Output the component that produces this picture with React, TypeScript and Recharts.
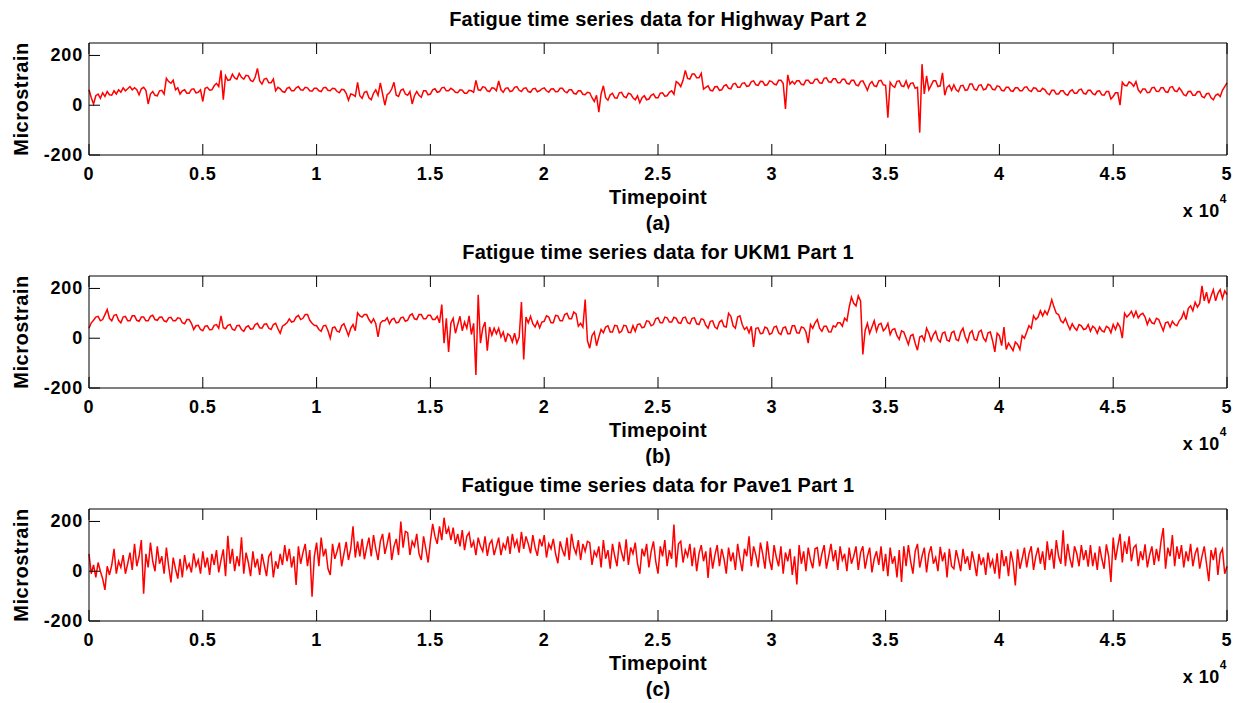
import React from 'react';
import { LineChart, Line, XAxis, YAxis, Label } from 'recharts';

// sample spacing of the values below (timepoints)
const STEP = 100;

// Highway Part 2, every 100 timepoints (20 values per row)
const highway = [
  62, 30, 5, 38, 45, 28, 50, 35, 55, 42, 40, 58, 45, 62, 52, 70, 58, 66, 75, 62,
  70, 62, 42, 66, 72, 60, 5, 45, 55, 40, 38, 58, 60, 45, 108, 95, 88, 100, 62, 70,
  45, 58, 62, 48, 48, 64, 66, 50, 52, 62, 15, 68, 72, 60, 62, 78, 88, 75, 140, 22,
  118, 100, 102, 125, 110, 105, 128, 112, 105, 120, 118, 100, 95, 112, 148, 98, 85, 105, 108, 90,
  90, 105, 58, 72, 66, 55, 52, 68, 72, 58, 58, 70, 75, 62, 60, 72, 70, 58, 56, 68,
  68, 58, 55, 70, 72, 60, 58, 68, 66, 55, 50, 64, 62, 48, 20, 45, 42, 35, 92, 38,
  28, 52, 55, 30, 22, 48, 62, 40, 90, 45, 0, 42, 50, 65, 92, 40, 35, 60, 65, 45,
  40, 55, 5, 38, 55, 40, 32, 58, 58, 42, 45, 62, 66, 52, 55, 70, 72, 58, 58, 68,
  62, 52, 50, 62, 60, 48, 48, 60, 58, 52, 100, 62, 60, 74, 72, 58, 55, 70, 68, 58,
  98, 62, 52, 68, 70, 55, 58, 72, 75, 60, 55, 68, 70, 55, 52, 66, 68, 54, 58, 66,
  70, 58, 52, 65, 66, 54, 55, 68, 68, 55, 50, 62, 62, 48, 45, 58, 58, 44, 42, 52,
  50, 30, 15, 40, -28, 45, 78, 30, 20, 42, 48, 30, 28, 50, 52, 35, 30, 48, 45, 30,
  22, 38, 10, 30, 38, 22, 25, 40, 45, 30, 30, 48, 50, 36, 38, 52, 58, 44, 95, 88,
  75, 100, 140, 108, 105, 125, 125, 110, 110, 128, 65, 72, 78, 60, 58, 74, 75, 60, 62, 78,
  82, 68, 66, 85, 88, 72, 72, 88, 90, 76, 78, 95, 98, 82, 80, 96, 95, 80, 82, 98,
  95, 85, 82, 100, 100, 88, -15, 122, 85, 96, 85, 98, 98, 84, 82, 100, 100, 88, 88, 104,
  105, 90, 88, 108, 110, 94, 92, 106, 106, 90, 90, 104, 104, 88, 85, 100, 100, 82, 78, 96,
  98, 80, 60, 85, 95, 78, 75, 98, 100, 82, 80, -50, 92, 78, 72, 96, 98, 78, 75, 98,
  70, 88, 90, 68, 72, -110, 165, 45, 118, 62, 80, 98, 98, 75, 78, 130, 40, 72, 80, 60,
  82, 62, 55, 78, 80, 60, 62, 85, 85, 64, 60, 80, 82, 62, 65, 84, 80, 64, 62, 78,
  75, 60, 58, 72, 72, 58, 56, 70, 70, 58, 58, 72, 74, 60, 55, 70, 68, 56, 56, 68,
  62, 48, 42, 60, 60, 45, 45, 58, 58, 44, 40, 56, 62, 48, 48, 62, 65, 48, 45, 60,
  60, 46, 42, 56, 58, 42, 40, 55, 55, 25, 35, 50, 50, 0, 92, 80, 78, 94, 88, 76,
  95, 62, 50, 65, 65, 50, 52, 70, 72, 56, 55, 70, 70, 54, 52, 72, 75, 58, 55, 70,
  58, 42, 38, 55, 56, 40, 40, 54, 55, 35, 30, 46, 48, 30, 22, 40, 45, 35, 60, 75,
  90,
];

// UKM1 Part 1
const ukm1 = [
  40, 62, 72, 85, 88, 70, 75, 95, 115, 80, 70, 92, 95, 72, 62, 85, 88, 70, 70, 90,
  90, 72, 68, 85, 85, 70, 70, 88, 92, 75, 72, 84, 85, 70, 66, 82, 84, 70, 70, 82,
  80, 62, 58, 75, 75, 60, 35, 50, 52, 35, 30, 48, 50, 34, 35, 52, 55, 40, 90, 42,
  38, 52, 55, 36, 32, 50, 52, 35, 28, 45, 50, 36, 38, 55, 60, 42, 40, 56, 58, 40,
  35, 55, 60, 38, 20, 48, 55, 62, 78, 65, 68, 85, 92, 75, 80, 95, 95, 72, 60, 52,
  50, 35, 28, 50, 52, 30, 0, 42, 45, 28, 25, 50, 58, 35, 10, 40, 55, 30, 102, 90,
  85, 95, 95, 75, 62, 78, 58, 5, 60, 70, 70, 82, 58, 75, 80, 62, 64, 82, 85, 68,
  72, 92, 98, 78, 75, 95, 95, 78, 78, 92, 92, 75, 75, 88, 62, 135, -20, 80, -55, 60,
  80, 20, 55, 88, 30, 65, 40, 90, 15, 60, -148, 175, -20, 40, 65, -50, 45, 12, 40, 18,
  40, 5, 25, -15, 18, 10, -15, 20, -20, 5, 145, -85, 85, 62, 88, 58, 45, 68, 42, 65,
  68, 90, 85, 62, 62, 92, 90, 70, 70, 95, 100, 78, 78, 105, 98, 48, 60, 45, 155, -10,
  -40, 10, 25, -30, 5, 35, 22, 45, 50, 25, 25, 52, 50, 22, 28, 52, 50, 24, 22, 50,
  28, 55, 58, 42, 45, 70, 68, 50, 55, 78, 82, 62, 62, 85, 82, 65, 65, 84, 80, 62,
  60, 82, 85, 62, 58, 80, 82, 58, 55, 78, 75, 52, 40, 68, 70, 45, 38, 65, 72, 48,
  45, 100, 88, 50, 40, 85, 90, 55, 35, 45, 22, 48, -35, 40, 42, 18, 20, 45, 40, 15,
  20, 45, 48, 22, 15, 42, 45, 18, 18, 50, 50, 22, 20, 45, 42, 25, -20, 55, 40, 62,
  75, 40, 28, 48, 48, 26, 25, 50, 45, 62, 62, 48, 80, 70, 125, 165, 140, 130, 170, 150,
  -65, 30, 60, 20, 45, 70, 28, 55, 60, 30, 40, 60, 15, 35, 38, 10, -5, 30, 25, 0,
  -25, 10, 15, -20, -48, 5, 10, -10, 40, 20, -10, 15, 28, -5, -15, 20, 25, -8, -12, 22,
  28, -5, -10, 25, 40, 5, -15, 20, 30, -5, -8, 25, 32, 0, -12, 22, 25, -10, -55, 20,
  10, -30, 45, -45, -20, -35, -50, -15, -25, -45, 10, 0, 25, 50, 40, 90, 75, 85, 110, 90,
  110, 95, 120, 155, 125, 100, 95, 70, 62, 80, 55, 35, 58, 42, 32, 55, 50, 35, 38, 55,
  28, 48, 40, 20, 45, 30, 25, 48, 42, 22, 55, 35, 60, 45, 0, 100, 85, 95, 108, 85,
  108, 82, 95, 100, 85, 55, 78, 62, 58, 80, 75, 52, 30, 62, 65, 45, 68, 55, 50, 70,
  80, 105, 75, 120, 130, 110, 145, 125, 140, 210, 150, 185, 140, 170, 195, 150, 180, 195, 160, 190,
  175,
];

// Pave1 Part 1
const pave1 = [
  70, -10, 25, -25, 35, 0, -30, -75, 20, -15, 25, 90, -10, 40, 15, 65, -10, 30, 75, 5,
  110, 20, 60, 125, -90, 70, 15, 115, 40, 0, 100, 30, 60, -10, 95, 20, -45, 55, 10, -30,
  50, -25, 65, 10, 30, -5, 72, 20, 45, -10, 80, 15, 55, -15, 70, 25, 85, -5, 45, 88,
  -20, 142, 30, 90, 0, 60, 20, 136, -10, 75, 35, -20, 80, 15, 50, -15, 70, 25, -20, 60,
  75, -25, 40, 10, 70, 25, 105, 40, 90, 15, 60, -55, 100, 30, 75, 110, 20, 85, -102, 60,
  115, 20, 135, 60, 90, 10, -15, 110, 50, 80, 115, 20, 70, 118, 45, 90, 180, 55, 120, 60,
  130, 48, 95, 135, 60, 145, 90, 45, 120, 150, 70, 110, 155, 45, 100, 130, 65, 200, 95, 160,
  155, 65, 120, 100, 150, 70, 45, 140, 90, 35, 120, 190, 140, 110, 180, 125, 215, 150, 175, 125,
  175, 110, 150, 100, 165, 85, 140, 155, 95, 120, 65, 135, 100, 80, 140, 62, 110, 125, 65, 100,
  135, 65, 110, 90, 140, 70, 150, 100, 125, 75, 158, 90, 140, 110, 72, 145, 95, 62, 130, 100,
  145, 55, 110, 90, 130, 70, 32, 120, 85, 60, 135, 45, 150, 95, 70, 125, 45, 110, 80, 120,
  115, 25, 80, 60, 100, 15, 125, 50, 85, 10, 110, 60, 20, 118, 75, 40, 128, 25, 95, 70,
  115, 30, -10, 90, 60, 110, 15, 80, 120, 40, -10, 100, 60, 125, 20, 85, 50, 188, 15, 110,
  120, 35, 85, 60, 110, 20, 95, 0, 70, 105, 40, 80, -27, 95, 10, 65, 105, 20, 90, 50,
  -10, 95, 40, 75, 5, 110, 50, 0, 90, 60, 140, 20, 100, 65, 15, 115, 70, 10, 120, 45,
  5, 105, 55, 20, 100, -10, 75, 40, 90, -15, 60, -53, 105, 30, 80, 0, 95, 45, 12, 90,
  95, 20, 70, 105, 10, 60, 110, 40, 85, 5, 100, 45, 70, 0, 95, 30, 60, 100, 5, 75,
  100, 10, 60, 95, -5, 50, 80, 25, 100, 0, 70, -20, 95, 30, 60, -25, 85, -43, 100, 20,
  105, 40, -10, 80, 110, 15, 60, 95, -5, 70, 100, 30, 55, 0, 98, 40, 75, -25, 90, 20,
  10, 85, 45, 0, 90, 30, 60, 5, 80, 35, -20, 70, 25, 55, -15, 75, 20, 45, -10, 72,
  -30, 85, 20, 60, -20, 80, 35, -57, 88, 10, 50, 95, 15, 70, 100, 5, 60, 95, 30, 80,
  5, 120, 45, 90, 10, 125, 60, 30, 164, 20, 110, 50, 15, 100, 70, 20, 105, 45, 85, 18,
  105, 20, 75, 5, 100, 50, 10, 108, 60, -43, 135, 45, 100, 150, 35, 120, 70, 140, 40, 95,
  105, 20, 80, 45, 108, 15, 65, 100, 25, 90, 40, 120, 173, 10, 95, 60, 145, 20, 100, 50,
  105, 15, 80, 40, 110, 20, 70, 95, 10, 60, 100, 30, -40, 85, 45, 95, -15, 70, 90, -10,
  20,
];

const xTicks = [0, 5000, 10000, 15000, 20000, 25000, 30000, 35000, 40000, 45000, 50000];
const yTicks = [-200, 0, 200];

const panels = [
  { title: 'Fatigue time series data for Highway Part 2', caption: '(a)', values: highway },
  { title: 'Fatigue time series data for UKM1 Part 1', caption: '(b)', values: ukm1 },
  { title: 'Fatigue time series data for Pave1 Part 1', caption: '(c)', values: pave1 },
];

const W = 1241;
const PANEL_H = 233;
const TICK = 11;
const FONT = '"Liberation Sans", Arial, Helvetica, sans-serif';
const INK = '#000';

const fmtX = (v: number) => String(v / 10000);

const BottomTick = ({ x, y, payload }: any) => (
  <g>
    <line x1={x} x2={x} y1={y} y2={y - TICK} stroke={INK} />
    <text x={x} y={y + 25} textAnchor="middle" fontFamily={FONT} fontWeight="bold" fontSize={18} letterSpacing={0.8} fill={INK}>
      {fmtX(payload.value)}
    </text>
  </g>
);

const TopTick = ({ x, y }: any) => <line x1={x} x2={x} y1={y} y2={y + TICK} stroke={INK} />;

const LeftTick = ({ x, y, payload }: any) => (
  <g>
    <line x1={x} x2={x + TICK} y1={y} y2={y} stroke={INK} />
    <text x={x - 6} y={y + 6} textAnchor="end" fontFamily={FONT} fontWeight="bold" fontSize={18} letterSpacing={0.8} fill={INK}>
      {payload.value}
    </text>
  </g>
);

const RightTick = ({ x, y }: any) => <line x1={x} x2={x - TICK} y1={y} y2={y} stroke={INK} />;

const Panel = ({ title, caption, values }: { title: string; caption: string; values: number[] }) => {
  const rows = values.map((v, i) => ({ t: i * STEP, v }));
  return (
    <LineChart width={W} height={PANEL_H} data={rows} margin={{ top: 42, right: 13, bottom: 77, left: 88 }}>
      <XAxis
        dataKey="t"
        type="number"
        domain={[0, 50000]}
        ticks={xTicks}
        interval={0}
        height={1}
        tickSize={0}
        tickMargin={0}
        tickLine={false}
        axisLine={{ stroke: INK }}
        tick={BottomTick}
      >
        <Label
          content={({ viewBox }: any) => {
            const cx = viewBox.x + viewBox.width / 2;
            const y0 = viewBox.y;
            const right = viewBox.x + viewBox.width;
            return (
              <g fontFamily={FONT} fontWeight="bold" fill={INK}>
                <text x={cx} y={y0 + 49} textAnchor="middle" fontSize={20} letterSpacing={0.3}>Timepoint</text>
                <text x={cx} y={y0 + 75} textAnchor="middle" fontSize={20}>{caption}</text>
                <text x={right} y={y0 + 62} textAnchor="end" fontSize={18} letterSpacing={0.5}>
                  x 10<tspan dy={-14} fontSize={12}>4</tspan>
                </text>
              </g>
            );
          }}
        />
      </XAxis>
      <XAxis
        xAxisId="top"
        orientation="top"
        dataKey="t"
        type="number"
        domain={[0, 50000]}
        ticks={xTicks}
        interval={0}
        height={1}
        tickSize={0}
        tickMargin={0}
        tickLine={false}
        axisLine={{ stroke: INK }}
        tick={TopTick}
      >
        <Label
          content={({ viewBox }: any) => (
            <text
              x={viewBox.x + viewBox.width / 2}
              y={viewBox.y + viewBox.height - 17}
              textAnchor="middle"
              fontFamily={FONT}
              fontWeight="bold"
              fontSize={20}
              letterSpacing={0.2}
              fill={INK}
            >
              {title}
            </text>
          )}
        />
      </XAxis>
      <YAxis
        type="number"
        domain={[-200, 250]}
        ticks={yTicks}
        interval={0}
        width={1}
        tickSize={0}
        tickMargin={0}
        tickLine={false}
        axisLine={{ stroke: INK }}
        tick={LeftTick}
      >
        <Label
          content={({ viewBox }: any) => {
            const cy = viewBox.y + viewBox.height / 2;
            return (
              <text
                x={28}
                y={cy}
                transform={`rotate(-90, 28, ${cy})`}
                textAnchor="middle"
                fontFamily={FONT}
                fontWeight="bold"
                fontSize={20}
                letterSpacing={0.5}
                fill={INK}
              >
                Microstrain
              </text>
            );
          }}
        />
      </YAxis>
      <YAxis
        yAxisId="right"
        orientation="right"
        type="number"
        domain={[-200, 250]}
        ticks={yTicks}
        interval={0}
        width={1}
        tickSize={0}
        tickMargin={0}
        tickLine={false}
        axisLine={{ stroke: INK }}
        tick={RightTick}
      />
      <Line type="linear" dataKey="v" stroke="#ff0000" strokeWidth={1.5} dot={false} isAnimationActive={false} />
    </LineChart>
  );
};

export default function App() {
  return (
    <div style={{ position: 'absolute', left: 0, top: 0, width: W, height: 703, background: '#fff' }}>
      {panels.map((p, i) => (
        <div key={p.caption} style={{ position: 'absolute', left: 0, top: i * PANEL_H }}>
          <Panel {...p} />
        </div>
      ))}
    </div>
  );
}
